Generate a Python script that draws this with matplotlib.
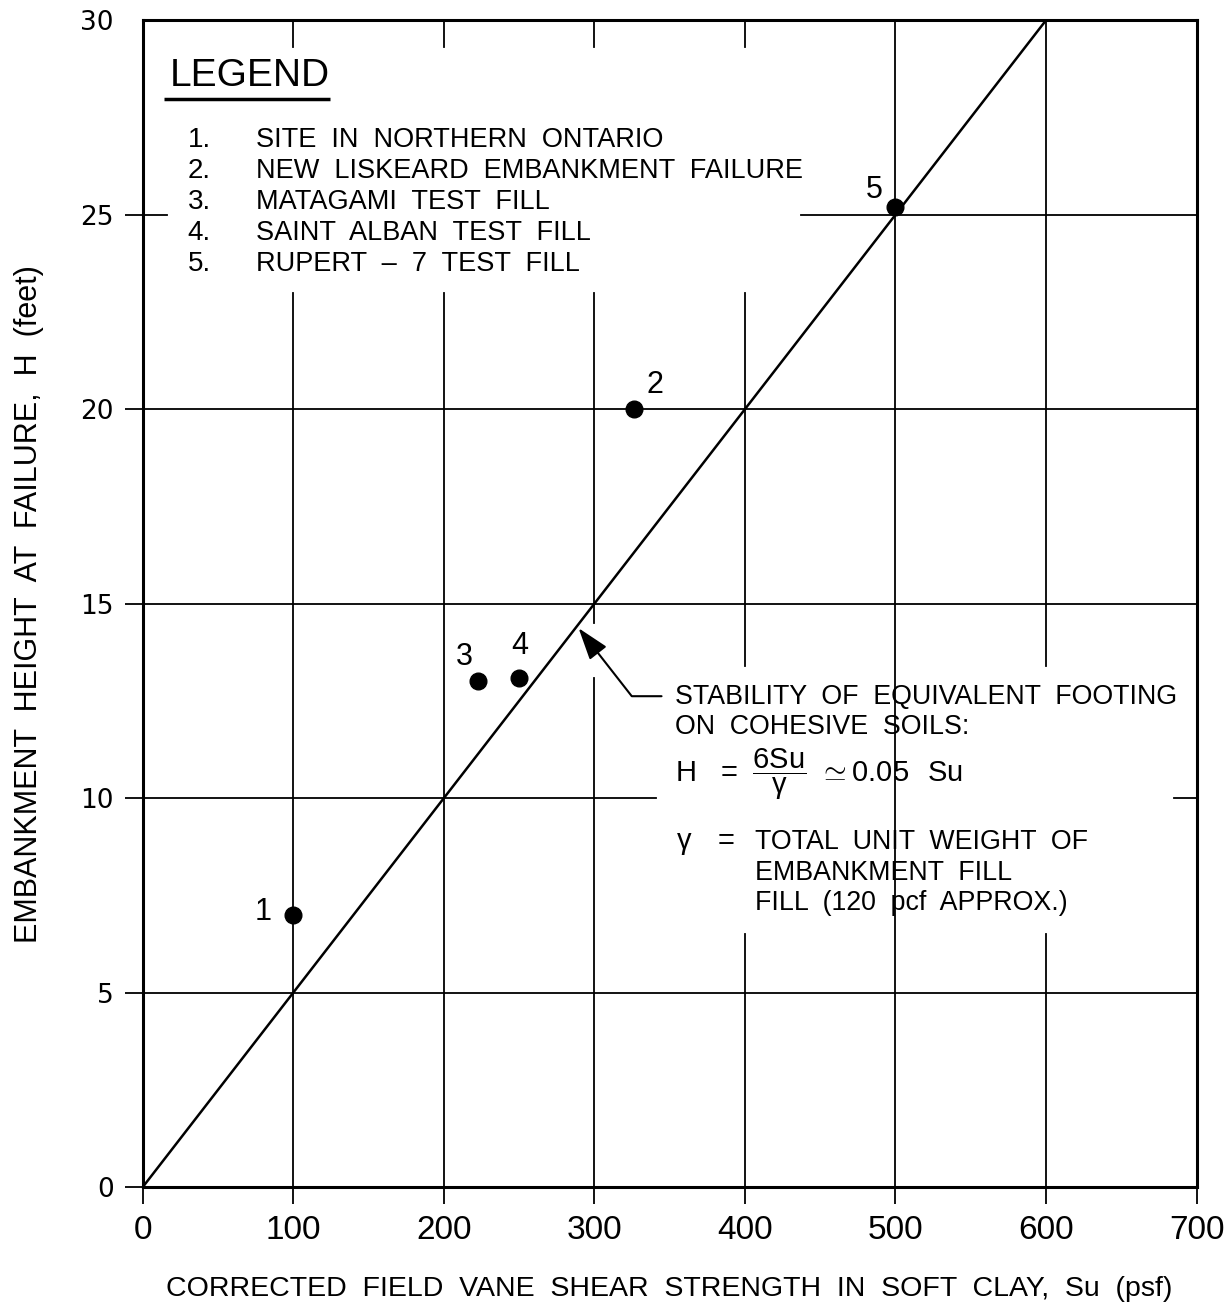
import matplotlib
matplotlib.use("Agg")
import matplotlib.pyplot as plt

# data
site_no = ["1", "2", "3", "4", "5"]
su = [100, 326, 223, 250, 500]          # corrected field vane Su (psf)
h_fail = [7.0, 20.0, 13.0, 13.1, 25.2]  # embankment height at failure (ft)
sites = ["SITE  IN  NORTHERN  ONTARIO",
         "NEW  LISKEARD  EMBANKMENT  FAILURE",
         "MATAGAMI  TEST  FILL",
         "SAINT  ALBAN  TEST  FILL",
         "RUPERT  \u2013  7  TEST  FILL"]
line_su = [0, 600]
line_h = [0, 30]
xticks = [0, 100, 200, 300, 400, 500, 600, 700]
yticks = [0, 5, 10, 15, 20, 25, 30]

FONT = "Liberation Sans"
plt.rcParams["font.family"] = [FONT, "DejaVu Sans"]
plt.rcParams["mathtext.fontset"] = "custom"
plt.rcParams["mathtext.rm"] = FONT

fig = plt.figure(figsize=(12.31, 13.08), dpi=100)
ax = fig.add_axes([0.116, 0.0925, 0.856, 0.892])
ax.set_xlim(0, 700)
ax.set_ylim(0, 30)

for s in ax.spines.values():
    s.set_linewidth(2.2)

# partial grid, broken where the legend and the note sit
vseg = {100: [(0, 23.0), (29.3, 30)],
        200: [(0, 23.0), (29.3, 30)],
        300: [(0, 13.1), (14.5, 23.0), (29.3, 30)],
        400: [(0, 6.5), (13.4, 23.0), (29.3, 30)],
        500: [(0, 30)],
        600: [(0, 6.5), (13.4, 30)]}
for x, segs in vseg.items():
    for y0, y1 in segs:
        ax.plot([x, x], [y0, y1], color="black", lw=1.3)
hseg = {5: [(0, 700)], 10: [(0, 341), (685, 700)], 15: [(0, 700)],
        20: [(0, 700)], 25: [(0, 16), (437, 700)]}
for y, segs in hseg.items():
    for x0, x1 in segs:
        ax.plot([x0, x1], [y, y], color="black", lw=1.3)

ax.plot(line_su, line_h, color="black", lw=1.8)
ax.plot(su, h_fail, "o", color="black", ms=12, ls="none")

offs = [(-30, 3), (21, 24), (-14, 24), (1, 32), (-21, 17)]
for n, x, y, o in zip(site_no, su, h_fail, offs):
    ax.annotate(n, (x, y), xytext=o, textcoords="offset pixels",
                ha="center", va="center", fontsize=22)

ax.set_xticks(xticks)
ax.set_yticks(yticks)
ax.tick_params(axis="x", direction="out", length=12, width=1.3, pad=8, labelsize=24)
ax.tick_params(axis="y", direction="out", length=13, width=1.3, pad=8,
               labelsize=19, labelfontfamily="DejaVu Sans")
ax.yaxis.get_major_ticks()[-1].tick1line.set_visible(False)

ax.set_xlabel("CORRECTED  FIELD  VANE  SHEAR  STRENGTH  IN  SOFT  CLAY,  Su  (psf)",
              fontsize=20.5, labelpad=22)
ax.set_ylabel("EMBANKMENT  HEIGHT  AT  FAILURE,  H  (feet)", fontsize=22, labelpad=26)

# legend block
leg = ax.text(18, 28.3, "LEGEND", fontsize=28, va="baseline")
for i, name in enumerate(sites):
    yb = 26.73 - 0.795 * i
    ax.text(29.9, yb, f"{i + 1}.", fontsize=20, va="baseline")
    ax.text(75.0, yb, name, fontsize=19.5, va="baseline")

# note with arrow
ax.annotate("", xy=(289.5, 14.37), xytext=(344.6, 12.62),
            arrowprops=dict(arrowstyle="-|>,head_length=0.9,head_width=0.3",
                            connectionstyle="angle,angleA=0,angleB=128,rad=0",
                            color="black", lw=1.5, mutation_scale=22,
                            shrinkA=0, shrinkB=0))
note = ["STABILITY  OF  EQUIVALENT  FOOTING", "ON  COHESIVE  SOILS:"]
ax.text(353.3, 12.42, note[0], fontsize=19.3, va="baseline")
ax.text(353.3, 11.65, note[1], fontsize=19.3, va="baseline")
ax.text(353.3, 10.4, r"$\mathrm{H\ \ =\ \dfrac{6Su}{γ}\ \simeq 0.05\ \ Su}$",
        fontsize=21, va="baseline")
ax.text(354.6, 8.68, "γ", fontsize=21, va="baseline")
ax.text(381.8, 8.68, "=", fontsize=21, va="baseline")
gamma_note = ["TOTAL  UNIT  WEIGHT  OF", "EMBANKMENT  FILL", "FILL  (120  pcf  APPROX.)"]
for i, t in enumerate(gamma_note):
    ax.text(407, 8.68 - 0.78 * i, t, fontsize=19.3, va="baseline")

# underline under LEGEND
fig.canvas.draw()
bb = leg.get_window_extent().transformed(ax.transData.inverted())
ax.plot([bb.x0 - 4, bb.x1], [bb.y0 - 0.12, bb.y0 - 0.12], color="black", lw=2.5,
        solid_capstyle="butt")

fig.savefig("out.png", dpi=100)
